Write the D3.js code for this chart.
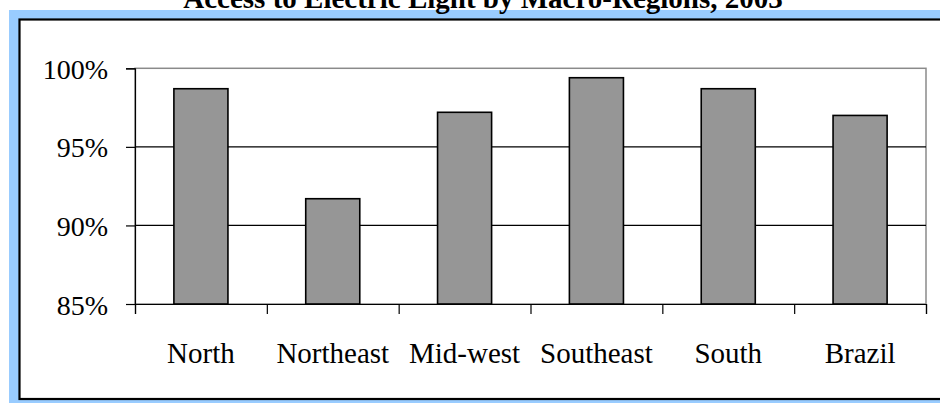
<!DOCTYPE html>
<html>
<head>
<meta charset="utf-8">
<script src="https://cdn.jsdelivr.net/npm/d3@7"></script>
<style>
  html, body { margin: 0; padding: 0; background: #ffffff; }
  svg { display: block; }
  svg text { font-family: "Liberation Serif", "Times New Roman", serif !important; }
</style>
</head>
<body>
<svg id="chart" width="940" height="403"></svg>
<script>
const title = "Access to Electric Light by Macro-Regions, 2003";
const categories = ["North", "Northeast", "Mid-west", "Southeast", "South", "Brazil"];
const values = [98.7, 91.7, 97.2, 99.4, 98.7, 97.0];
const yTicks = [85, 90, 95, 100];
const yDomain = [85, 100];

const SERIF = "'Liberation Serif', 'Times New Roman', serif";
const svg = d3.select("#chart");
const W = 940, H = 403;

// background frame
svg.append("rect").attr("x", 9).attr("y", 10).attr("width", W - 9).attr("height", H - 10)
  .attr("fill", "#99ccff");
svg.append("rect").attr("x", 19.5).attr("y", 19.5).attr("width", W + 20).attr("height", 379.5)
  .attr("fill", "#ffffff").attr("stroke", "#000000").attr("stroke-width", 2.2);

// title
svg.append("text").attr("x", 483).attr("y", 7.5).attr("text-anchor", "middle")
  .style("font-family", SERIF)
  .attr("font-size", 29).attr("font-weight", "bold").attr("fill", "#000")
  .text(title);

const plot = { left: 135, right: 926, top: 68.3, bottom: 304 };

const x = d3.scaleBand().domain(categories).range([plot.left, plot.right])
  .paddingInner(0.59).paddingOuter(0.295);
const xIdx = d3.scaleLinear().domain([0, categories.length]).range([plot.left, plot.right]);
const y = d3.scaleLinear().domain(yDomain).range([plot.bottom, plot.top]);

// plot area border (gray top/right)
svg.append("rect").attr("x", plot.left).attr("y", plot.top)
  .attr("width", plot.right - plot.left).attr("height", plot.bottom - plot.top)
  .attr("fill", "#ffffff").attr("stroke", "#8a8a8a").attr("stroke-width", 1.5);

// gridlines
svg.append("g").selectAll("line").data(yTicks.filter(t => t > yDomain[0] && t < yDomain[1]))
  .join("line")
  .attr("x1", plot.left).attr("x2", plot.right)
  .attr("y1", d => y(d)).attr("y2", d => y(d))
  .attr("stroke", "#000").attr("stroke-width", 1.2);

// bars
svg.append("g").selectAll("rect").data(values).join("rect")
  .attr("x", (d, i) => x(categories[i]))
  .attr("width", x.bandwidth())
  .attr("y", d => y(d))
  .attr("height", d => y(yDomain[0]) - y(d))
  .attr("fill", "#969696").attr("stroke", "#000").attr("stroke-width", 1.6);

// y axis
const yAxis = svg.append("g").attr("transform", `translate(${plot.left},0)`)
  .call(d3.axisLeft(y).tickValues(yTicks).tickSize(9).tickPadding(18).tickFormat(d => d + "%"));
yAxis.attr("font-family", null).attr("font-size", null);
yAxis.select(".domain").attr("stroke", "#000").attr("stroke-width", 1.2);
yAxis.selectAll(".tick line").attr("stroke", "#000").attr("stroke-width", 1.2);
yAxis.selectAll(".tick text").style("font-family", SERIF).style("font-size", "28px")
  .attr("fill", "#000").attr("dy", "0.36em");

// x axis ticks at category boundaries
const xAxis = svg.append("g").attr("transform", `translate(0,${plot.bottom})`)
  .call(d3.axisBottom(xIdx).tickValues(d3.range(categories.length + 1)).tickSize(10).tickFormat(""));
xAxis.select(".domain").attr("stroke", "#000").attr("stroke-width", 1.2);
xAxis.selectAll(".tick line").attr("stroke", "#000").attr("stroke-width", 1.2);

// category labels
svg.append("g").selectAll("text").data(categories).join("text")
  .attr("x", d => x(d) + x.bandwidth() / 2)
  .attr("y", 363)
  .attr("text-anchor", "middle")
  .style("font-family", SERIF).style("font-size", "29px").attr("fill", "#000")
  .text(d => d);
</script>
</body>
</html>
